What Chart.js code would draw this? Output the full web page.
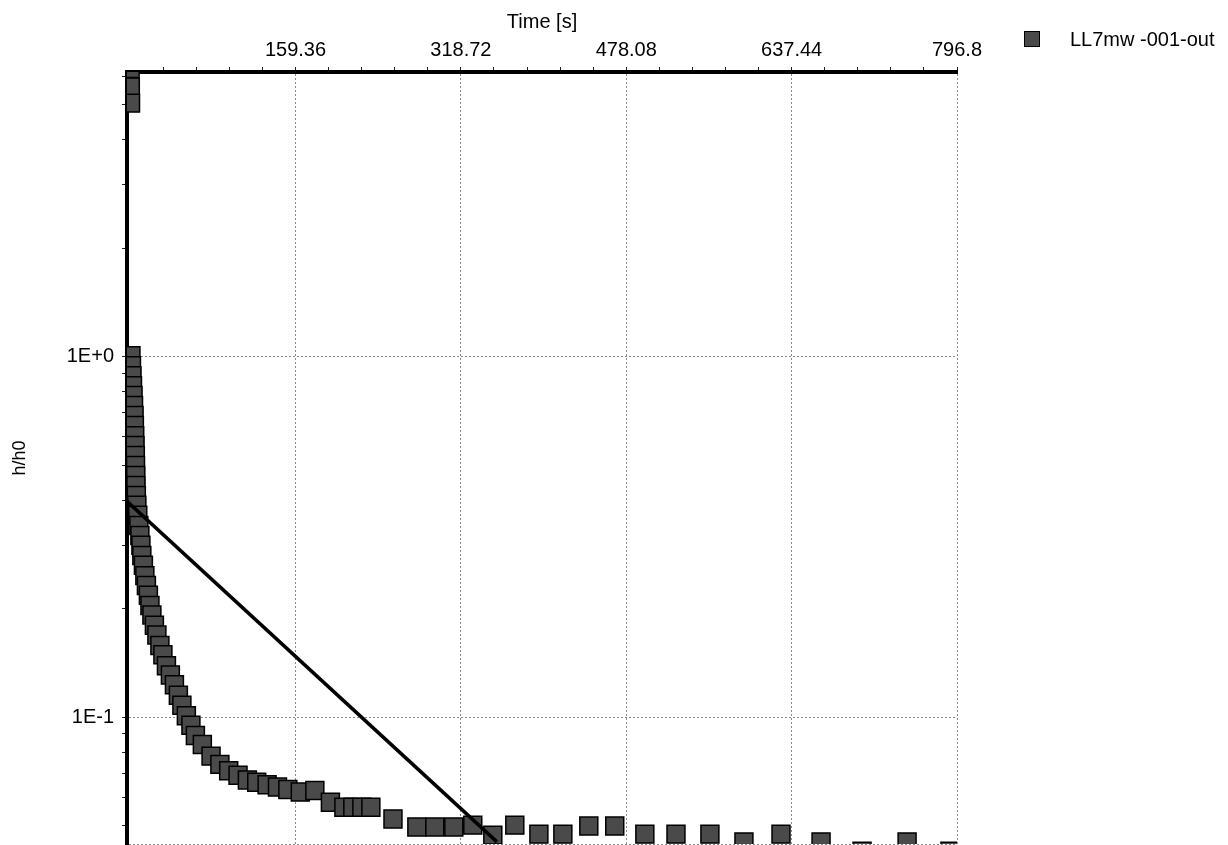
<!DOCTYPE html>
<html>
<head>
<meta charset="utf-8">
<title>LL7mw -001-out</title>
<script src="https://cdn.jsdelivr.net/npm/chart.js@4.4.0/dist/chart.umd.min.js"></script>
<style>
  body { margin: 0; background: #fff; overflow: hidden; }
  #wrap { position: relative; width: 1228px; height: 845px; }
  #legend { position: absolute; left: 1024px; top: 27px; height: 24px; display: flex; align-items: center;
            font: 20px "Liberation Sans", Arial, sans-serif; color: #000; white-space: pre; }
  #legend .box { width: 14px; height: 14px; border: 1px solid #000; margin-right: 30px; }
</style>
</head>
<body>
<div id="wrap">
  <canvas id="chart" width="1228" height="845"></canvas>
  <div id="legend"></div>
</div>
<script>
// measured data (time in s, head ratio h/h0)
const seriesName = 'LL7mw -001-out';
const times = [0, 0.2, 0.4, 0.8, 1.3, 1.8, 2.3, 2.8, 3.3, 3.8, 4.1, 4.4, 4.7, 5.0, 5.2, 5.4, 5.6, 6.0, 6.5, 7.4, 8.4,
  9.4, 10.4, 11.3, 12.8, 14.2, 15.7, 17.6, 19.1, 21.0, 23.4, 25.8, 28.7, 31.6, 35.0, 38.8, 42.7, 46.5, 49.9, 54.2, 58.6,
  62.9, 69.6, 78.0, 86.5, 95.0, 104.0, 113.0, 122.0, 132.0, 142.0, 152.0, 164.0, 178.0, 193.0, 206.0, 214.6, 223.3, 232.0,
  253.3, 276.3, 293.6, 311.9, 330.2, 349.5, 370.7, 393.9, 417.0, 442.0, 467.0, 496.0, 526.0, 558.7, 591.5, 627.2,
  665.8, 705.3, 748.7, 790.0];
const hRatio = [6.3, 5.6, 5.05, 1.006, 0.944, 0.886, 0.831, 0.780, 0.732, 0.687, 0.644, 0.604, 0.567, 0.532, 0.499, 0.468, 0.439,
  0.412, 0.387, 0.363, 0.340, 0.319, 0.300, 0.281, 0.264, 0.247, 0.232, 0.218, 0.204, 0.192, 0.180, 0.169, 0.158, 0.149,
  0.139, 0.131, 0.123, 0.115, 0.108, 0.101, 0.095, 0.089, 0.084, 0.078, 0.074, 0.071, 0.069, 0.067, 0.066, 0.065, 0.064,
  0.063, 0.062, 0.0626, 0.0581, 0.0563, 0.0563, 0.0563, 0.0563, 0.0522, 0.0496, 0.0496, 0.0496, 0.0502, 0.0471,
  0.0502, 0.0474, 0.0474, 0.0499, 0.0499, 0.0474, 0.0474, 0.0474, 0.0451, 0.0474, 0.0451, 0.0425, 0.0451, 0.0425];

// straight-line fit on the log axis
const fitTimes = [-3, 353.5];
const fitRatio = [0.397, 0.0451];

const xTickValues = [159.36, 318.72, 478.08, 637.44, 796.8];
const xTickLabels = ['159.36', '318.72', '478.08', '637.44', '796.8'];
const yMin = 0.0445;
const yMax = 6.16;
const yTickValues = [0.1, 1];
const yTickLabels = ['1E-1', '1E+0'];
const yMinorValues = [0.05, 0.06, 0.07, 0.08, 0.09, 0.2, 0.3, 0.4, 0.5, 0.6, 0.7, 0.8, 0.9, 2, 3, 4, 5, 6];

const FONT = { family: '"Liberation Sans", Arial, sans-serif', size: 20 };
const gridGray = '#8a8a8a';
const markerFill = '#4a4a4a';

// 4 minor ticks between every labelled x tick
const xMinor = [];
for (let i = 0; i < xTickValues.length; i++) {
  const start = i === 0 ? 0 : xTickValues[i - 1];
  const step = (xTickValues[i] - start) / 5;
  for (let k = 1; k < 5; k++) xMinor.push(start + k * step);
}

// keep the plot box fixed: no extra room for overhanging tick labels
function fixPadding(s) {
  s.paddingTop = 0;
  s.paddingBottom = 0;
  s.paddingLeft = 0;
  s.paddingRight = 0;
}

const chart = new Chart(document.getElementById('chart'), {
  type: 'scatter',
  data: {
    datasets: [{
      label: seriesName,
      data: times.map((t, i) => ({ x: t, y: hRatio[i] })),
      pointStyle: 'rect',
      pointRadius: 12.7,
      pointHoverRadius: 12.7,
      backgroundColor: markerFill,
      borderColor: '#000',
      borderWidth: 1.5,
      order: 2,
      clip: 0
    }, {
      label: 'fit',
      type: 'line',
      data: fitTimes.map((t, i) => ({ x: t, y: fitRatio[i] })),
      borderColor: '#000',
      borderWidth: 3.5,
      pointRadius: 0,
      order: 1,
      clip: 0
    }]
  },
  options: {
    responsive: false,
    animation: false,
    events: [],
    layout: { autoPadding: false, padding: { left: 0, top: 0, right: 271, bottom: 1 } },
    plugins: { legend: { display: false }, tooltip: { enabled: false } },
    scales: {
      x: {
        type: 'linear',
        position: 'top',
        min: -3,
        max: 796.8,
        afterBuildTicks: s => {
          s.ticks = xMinor.concat(xTickValues).sort((a, b) => a - b).map(v => ({ value: v }));
        },
        afterFit: s => { s.height = 72; fixPadding(s); },
        ticks: {
          autoSkip: false, maxRotation: 0, padding: 5, color: '#000', font: FONT,
          callback: v => {
            const i = xTickValues.indexOf(v);
            return i >= 0 ? xTickLabels[i] : '';
          }
        },
        grid: {
          color: c => (c.tick && xTickValues.includes(c.tick.value)) ? gridGray : 'rgba(0,0,0,0)',
          tickColor: '#222',
          tickLength: 5,
          lineWidth: 1
        },
        border: { display: true, color: '#000', width: 4, dash: [2, 2] },
        title: { display: true, text: 'Time [s]', color: '#000', font: FONT, padding: { top: 10, bottom: 0 } }
      },
      y: {
        type: 'logarithmic',
        position: 'left',
        min: yMin,
        max: yMax,
        afterBuildTicks: s => {
          s.ticks = [yMin].concat(yMinorValues, yTickValues).sort((a, b) => a - b).map(v => ({ value: v }));
        },
        afterFit: s => { s.width = 127; fixPadding(s); },
        ticks: {
          autoSkip: false, padding: 8, color: '#000', font: FONT,
          callback: v => {
            const i = yTickValues.indexOf(v);
            return i >= 0 ? yTickLabels[i] : '';
          }
        },
        grid: {
          // labelled decades and the bottom edge of the frame get a dotted line
          color: c => (c.tick && (yTickValues.includes(c.tick.value) || c.tick.value === yMin)) ? gridGray : 'rgba(0,0,0,0)',
          tickColor: c => (c.tick && c.tick.value === yMin) ? 'rgba(0,0,0,0)' : '#222',
          tickLength: 5,
          lineWidth: 1
        },
        border: { display: true, color: '#000', width: 4, dash: [2, 2] },
        title: { display: true, text: 'h/h0', color: '#000', font: { family: FONT.family, size: 18 }, padding: { top: 9, bottom: 0 } }
      }
    }
  }
});

// legend built from the chart's own dataset
const ds = chart.data.datasets[0];
document.getElementById('legend').innerHTML =
  '<span class="box" style="background:' + ds.backgroundColor + '"></span><span>' + ds.label + '</span>';
</script>
</body>
</html>
